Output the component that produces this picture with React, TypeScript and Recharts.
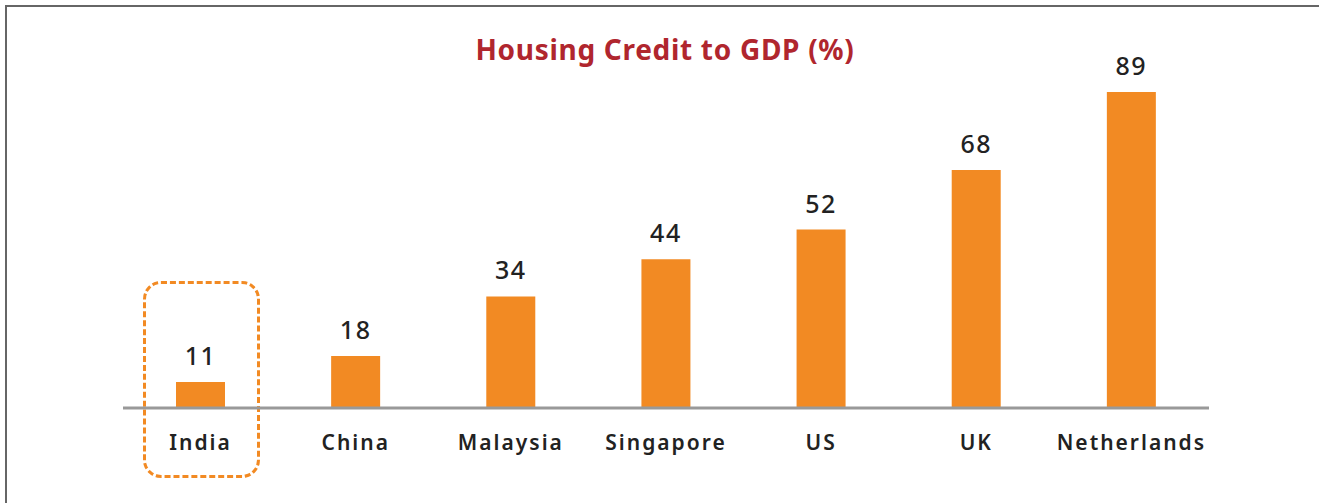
import { Bar, BarChart, LabelList, XAxis, YAxis } from "recharts";

const countries = ["India", "China", "Malaysia", "Singapore", "US", "UK", "Netherlands"];
const housingCredit = [11, 18, 34, 44, 52, 68, 89];

const data = countries.map((country, i) => ({ country, value: housingCredit[i] }));

const FONT = "'Noto Sans', sans-serif";

export default function App() {
  return (
    <div
      style={{
        position: "absolute",
        left: 0,
        top: 0,
        width: 1319,
        height: 503,
        background: "#fff",
        fontFamily: FONT,
        overflow: "hidden",
      }}
    >
      {/* frame: top and left edges only */}
      <div
        style={{
          position: "absolute",
          left: 5,
          top: 5,
          width: 1320,
          height: 510,
          borderTop: "2px solid #666",
          borderLeft: "2px solid #666",
        }}
      />
      <div
        style={{
          position: "absolute",
          left: 0,
          width: 1330,
          top: 30,
          textAlign: "center",
          color: "#B0262E",
          fontSize: 28,
          fontWeight: 700,
          letterSpacing: 0.7,
        }}
      >
        Housing Credit to GDP (%)
      </div>
      {/* dashed highlight around India */}
      <div
        style={{
          position: "absolute",
          left: 143,
          top: 281,
          width: 111,
          height: 191,
          border: "3px dashed #F28A23",
          borderRadius: 18,
        }}
      />
      <BarChart
        width={1319}
        height={503}
        data={data}
        margin={{ top: 51, right: 110, bottom: 65, left: 123 }}
      >
        <XAxis
          dataKey="country"
          axisLine={{ stroke: "#999", strokeWidth: 3 }}
          tickLine={false}
          tickSize={0}
          tickMargin={27}
          height={30}
          interval={0}
          tick={{
            fill: "#222",
            fontSize: 21,
            fontWeight: 600,
            fontFamily: FONT,
            letterSpacing: 2,
          }}
        />
        <YAxis hide domain={[4, 100]} allowDataOverflow />
        <Bar dataKey="value" fill="#F28A23" barSize={49} isAnimationActive={false}>
          <LabelList
            dataKey="value"
            position="top"
            offset={17}
            fill="#222"
            fontSize={25}
            fontWeight={500}
            fontFamily={FONT}
            letterSpacing={1.5}
          />
        </Bar>
      </BarChart>
    </div>
  );
}
